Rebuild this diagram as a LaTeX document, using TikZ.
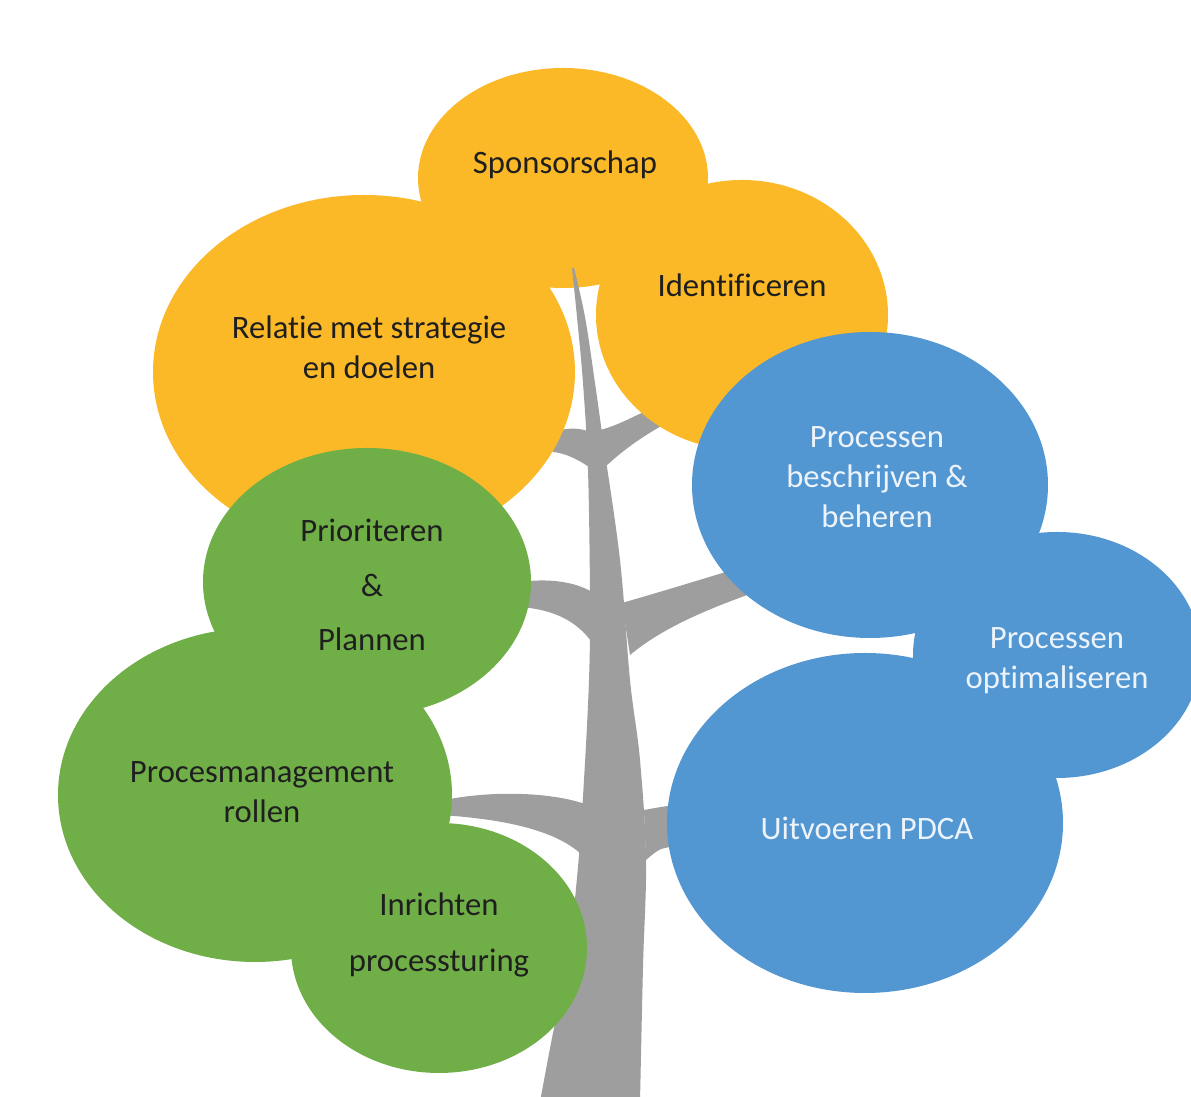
\documentclass[tikz,border=0pt]{standalone}
\usepackage{xcolor}
\usepackage{fontspec}
\setmainfont{Carlito}[Ligatures={TeX,NoCommon}]
\definecolor{leafyellow}{RGB}{251,185,40}
\definecolor{leafgreen}{RGB}{112,175,72}
\definecolor{leafblue}{RGB}{82,150,210}
\definecolor{barkgray}{RGB}{158,158,158}
\definecolor{textlight}{RGB}{236,243,250}
\tikzset{bark/.style={fill=barkgray},
  darktext/.style={text=black!88, font=\fontsize{9.3}{11.4}\selectfont, align=center},
  lighttext/.style={darktext, text=textlight}}

\begin{document}
\begin{tikzpicture}
\fill[white] (0,0) rectangle (11.91,10.97);
\useasboundingbox (0,0) rectangle (11.91,10.97);
% top of the crown
\fill[leafyellow] (5.63,9.19) ellipse (1.45 and 1.10);
% trunk
\fill[bark] plot[smooth, tension=0.6] coordinates {(5.40,-0.05) (5.53,0.64) (5.67,1.30) (5.78,2.30) (5.84,3.17) (5.89,4.17) (5.90,4.97) (5.88,6.27) (5.83,7.14) (5.77,7.80) (5.72,8.29)}
  -- plot[smooth, tension=0.6] coordinates {(5.74,8.29) (5.85,7.80) (5.95,7.14) (6.03,6.57) (6.20,5.37) (6.30,4.17) (6.40,3.37) (6.46,2.37) (6.43,1.30) (6.40,-0.05)} -- cycle;
% branches
\fill[bark] (5.53,6.65) .. controls (5.70,6.70) and (5.80,6.69) .. (5.90,6.65) -- (5.93,6.27) .. controls (5.80,6.37) and (5.65,6.44) .. (5.53,6.45) -- cycle;
\fill[bark] (6.00,6.67) .. controls (6.20,6.72) and (6.35,6.82) .. (6.60,6.92) -- (6.70,6.76) .. controls (6.45,6.62) and (6.25,6.49) .. (6.04,6.29) -- cycle;
\fill[bark] (5.20,5.15) .. controls (5.50,5.19) and (5.75,5.15) .. (5.92,5.05) -- (5.94,4.52) .. controls (5.80,4.72) and (5.60,4.87) .. (5.20,4.90) -- cycle;
\fill[bark] (6.22,4.94) .. controls (6.60,5.05) and (7.00,5.17) .. (7.45,5.31) -- (7.50,5.03) .. controls (7.00,4.85) and (6.60,4.67) .. (6.30,4.42) -- cycle;
\fill[bark] (4.40,2.96) .. controls (4.90,3.07) and (5.50,3.05) .. (5.85,2.93) -- (5.81,2.43) .. controls (5.60,2.62) and (5.20,2.77) .. (4.40,2.82) -- cycle;
\fill[bark] (6.44,2.87) .. controls (6.55,2.89) .. (6.80,2.93) -- (6.80,2.51) .. controls (6.60,2.49) .. (6.46,2.37) -- cycle;
% yellow leaves
\fill[leafyellow] (3.64,7.25) ellipse (2.11 and 1.77);
\fill[leafyellow] (7.42,7.82) ellipse (1.46 and 1.35);
% green leaves
\fill[leafgreen] (3.67,5.15) ellipse (1.64 and 1.34);
\fill[leafgreen] (2.55,3.02) ellipse (1.97 and 1.67);
\fill[leafgreen] (4.39,1.49) ellipse (1.48 and 1.25);
% blue leaves
\fill[leafblue] (8.70,6.12) ellipse (1.78 and 1.53);
\fill[leafblue] (10.57,4.42) ellipse (1.44 and 1.23);
\fill[leafblue] (8.65,2.74) ellipse (1.98 and 1.70);

\node[darktext] (spons) at (5.65,9.32) {Sponsorschap};
\node[darktext] (relatie) at (3.69,7.50) {Relatie met strategie\\en doelen};
\node[darktext] (ident) at (7.42,8.12) {Identificeren};
\node[darktext, font=\fontsize{9.3}{15.6}\selectfont] (prior) at (3.72,5.12) {Prioriteren\\\&\\Plannen};
\node[darktext] (rollen) at (2.62,3.05) {Procesmanagement\\rollen};
\node[darktext, font=\fontsize{9.3}{15.8}\selectfont] (inricht) at (4.39,1.62) {Inrichten\\processturing};
\node[lighttext] (beschr) at (8.77,6.20) {Processen\\beschrijven \&\\beheren};
\node[lighttext] (optim) at (10.57,4.36) {Processen\\optimaliseren};
\node[lighttext] (pdca) at (8.67,2.69) {Uitvoeren PDCA};
\end{tikzpicture}
\end{document}
